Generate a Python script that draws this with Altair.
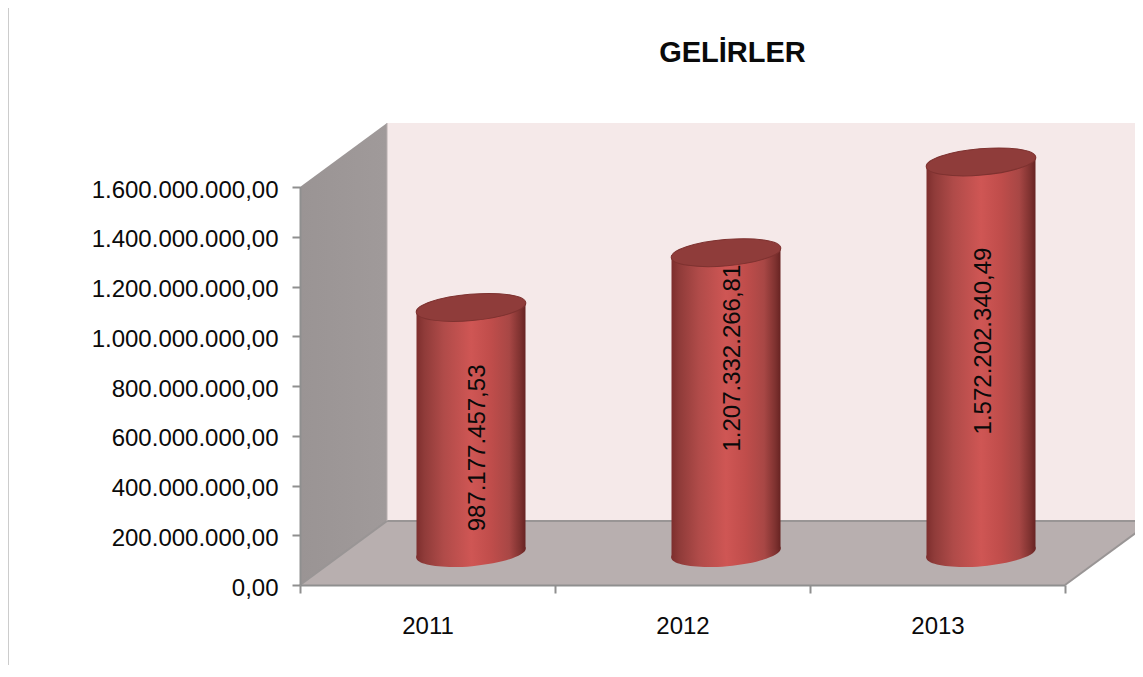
import altair as alt
import pandas as pd

# ---- chart values
years = ["2011", "2012", "2013"]
values = [987177457.53, 1207332266.81, 1572202340.49]
value_labels = ["987.177.457,53", "1.207.332.266,81", "1.572.202.340,49"]
label_anchor = [551e6, 912e6, 981e6]
label_shift = [0.029, 0.029, 0.010]
y_ticks = [0, 2e8, 4e8, 6e8, 8e8, 1e9, 1.2e9, 1.4e9, 1.6e9]
x_ticks = [0, 0.5, 1, 1.5, 2, 2.5, 3]

# ---- pseudo-3D geometry in data units
Y_MAX = 1.6e9
DEPTH_X = 87 / 255
DEPTH_Y = 64 / 398 * Y_MAX
HALF_W = 54.5 / 255
TILT = 4.7 / 398 * Y_MAX

FONT = "Liberation Sans"
AXIS_GREY = "#8f8f8f"
TEXT = "#0a0a0a"

x_scale = alt.Scale(domain=[0, 3], nice=False, zero=False)
y_scale = alt.Scale(domain=[0, Y_MAX], nice=False, zero=True)


def X(field="x", **kw):
    return alt.X(field, type="quantitative", scale=x_scale, title=None, **kw)


def Y(field="y", **kw):
    return alt.Y(field, type="quantitative", scale=y_scale, title=None, **kw)


def Y2(field="y2"):
    return alt.Y2(field)


x_axis = alt.Axis(
    values=x_ticks,
    labelExpr="datum.value % 1 ? ['" + "','".join(years) + "'][floor(datum.value)] : ''",
    labelFont=FONT, labelFontSize=24, labelColor=TEXT, labelPadding=21,
    labelOverlap=False, labelFlush=False, labelAngle=0,
    tickSize=8, tickWidth=2, tickColor=AXIS_GREY,
    tickOpacity=alt.condition("datum.value % 1 != 0", alt.value(0), alt.value(1)),
    domainColor=AXIS_GREY, domainWidth=2, grid=False, zindex=1,
)
y_axis = alt.Axis(
    values=y_ticks,
    labelExpr="replace(replace(replace(format(datum.value, ',.2f'), /,/g, '#'), /\\./g, ','), /#/g, '.')",
    labelFont=FONT, labelFontSize=24, labelColor=TEXT, labelPadding=14, labelOffset=3,
    labelOverlap=False, labelLimit=400, labelFlush=False,
    tickSize=8, tickWidth=2, tickColor=AXIS_GREY,
    domainColor=AXIS_GREY, domainWidth=2, grid=False, zindex=1,
)

# ---- walls
side_wall = pd.DataFrame({
    "x": [0, DEPTH_X], "y": [0, DEPTH_Y], "y2": [Y_MAX, Y_MAX + DEPTH_Y],
})
back_wall = pd.DataFrame({
    "x": [DEPTH_X, 3 + DEPTH_X], "y": [DEPTH_Y, DEPTH_Y], "y2": [Y_MAX + DEPTH_Y, Y_MAX + DEPTH_Y],
})
floor = pd.DataFrame({
    "x": [0, DEPTH_X, 3, 3 + DEPTH_X],
    "y": [0, 0, 0, DEPTH_Y],
    "y2": [0, DEPTH_Y, DEPTH_Y, DEPTH_Y],
})
floor_back = pd.DataFrame({"x": [DEPTH_X, 3 + DEPTH_X], "y": [DEPTH_Y, DEPTH_Y]})
floor_side = pd.DataFrame({"x": [0, DEPTH_X], "y": [0, DEPTH_Y]})
floor_right = pd.DataFrame({"x": [3, 3 + DEPTH_X], "y": [0, DEPTH_Y]})
wall_edge = pd.DataFrame({"x": [DEPTH_X, DEPTH_X], "y": [DEPTH_Y, Y_MAX + DEPTH_Y]})

side_layer = alt.Chart(side_wall).mark_area(
    color=alt.LinearGradient(gradient="linear", x1=0, x2=1, y1=0, y2=0,
                             stops=[alt.GradientStop(offset=0, color="#9a9494"),
                                    alt.GradientStop(offset=1, color="#a09a9a")]),
    opacity=1,
).encode(x=X(), y=Y(), y2=Y2())
back_layer = alt.Chart(back_wall).mark_area(color="#f5e9e9", opacity=1).encode(x=X(), y=Y(), y2=Y2())
floor_layer = alt.Chart(floor).mark_area(color="#b8afaf", opacity=1).encode(x=X(), y=Y(), y2=Y2())


def edge(df, color="#999595", width=2):
    return alt.Chart(df).mark_line(color=color, strokeWidth=width).encode(x=X(), y=Y())


# ---- cylinders
cyl = pd.DataFrame({
    "year": years,
    "value": values,
    "label": value_labels,
    "anchor": label_anchor,
    "shift": label_shift,
})
cyl["center"] = [i + 0.5 + DEPTH_X / 2 for i in range(len(years))]
cyl["label_x"] = cyl["center"] + cyl["shift"]
cyl["base"] = DEPTH_Y / 2
cyl["top"] = cyl["value"] + DEPTH_Y / 2

# the body's two edges, slanted so that they meet the tilted end caps
body_rows = []
for _, row in cyl.iterrows():
    for side in (-1, 1):
        body_rows.append({
            "year": row["year"],
            "x": row["center"] + side * HALF_W,
            "y": row["base"] + side * TILT,
            "y2": row["top"] + side * TILT,
        })
body_df = pd.DataFrame(body_rows)

body_gradient = alt.LinearGradient(
    gradient="linear", x1=0, x2=1, y1=0, y2=0,
    stops=[
        alt.GradientStop(offset=0.0, color="#7d2e2d"),
        alt.GradientStop(offset=0.07, color="#8f3b39"),
        alt.GradientStop(offset=0.25, color="#b04b49"),
        alt.GradientStop(offset=0.5, color="#cf5654"),
        alt.GradientStop(offset=0.68, color="#c04d4b"),
        alt.GradientStop(offset=0.85, color="#a84745"),
        alt.GradientStop(offset=0.95, color="#7f3230"),
        alt.GradientStop(offset=1.0, color="#672322"),
    ],
)
ELLIPSE = "M-1,0A1,0.24,0,1,1,1,0A1,0.24,0,1,1,-1,0Z"
ELL_SIZE = (2 * 55) ** 2

bottom_cap = alt.Chart(cyl).mark_point(
    shape=ELLIPSE, size=ELL_SIZE, filled=True, fill=body_gradient, opacity=1, angle=355,
    strokeWidth=0,
).encode(x=X("center"), y=Y("base"))
body = alt.Chart(body_df).mark_area(fill=body_gradient, opacity=1).encode(
    x=X(), y=Y(), y2=Y2(), detail="year:N"
)
top_cap = alt.Chart(cyl).mark_point(
    shape=ELLIPSE, size=ELL_SIZE, filled=True, fill="#8f3c3a", opacity=1, angle=355,
    stroke="#7e3230", strokeWidth=1,
).encode(x=X("center"), y=Y("top"))
bar_labels = alt.Chart(cyl).mark_text(
    angle=270, font=FONT, fontSize=24, color=TEXT, align="center", baseline="middle",
).encode(x=X("label_x"), y=Y("anchor"), text="label:N")

# thin page rule on the far left of the picture
page_rule = alt.Chart(pd.DataFrame({"a": [0]})).mark_rule(color="#cccccc", strokeWidth=1).encode(
    x=alt.value(-291.5), y=alt.value(-179), y2=alt.value(478)
)

# the axes live on a layer of their own, drawn from the tick values
axis_layer = alt.Chart(pd.DataFrame({"x": [0], "y": [0]})).mark_point(opacity=0).encode(
    x=X(axis=x_axis), y=Y(axis=y_axis)
)

chart = alt.layer(
    side_layer, back_layer, floor_layer,
    edge(floor_back), edge(floor_side), edge(floor_right), edge(wall_edge, "#b9b0b0", 1),
    bottom_cap, body, top_cap, bar_labels, page_rule, axis_layer,
).properties(
    width=765,
    height=398,
    padding={"left": 292, "top": 179, "right": 70, "bottom": 80},
    autosize=alt.AutoSizeParams(type="none"),
    background="white",
    title=alt.Title("GELİRLER", font=FONT, fontSize=29, fontWeight="bold", color=TEXT,
                    anchor="middle", dx=50, offset=-60, frame="group"),
).configure_view(stroke=None).configure_axis(grid=False)

chart.save("out.html", embed_options={"renderer": "svg", "actions": False})
